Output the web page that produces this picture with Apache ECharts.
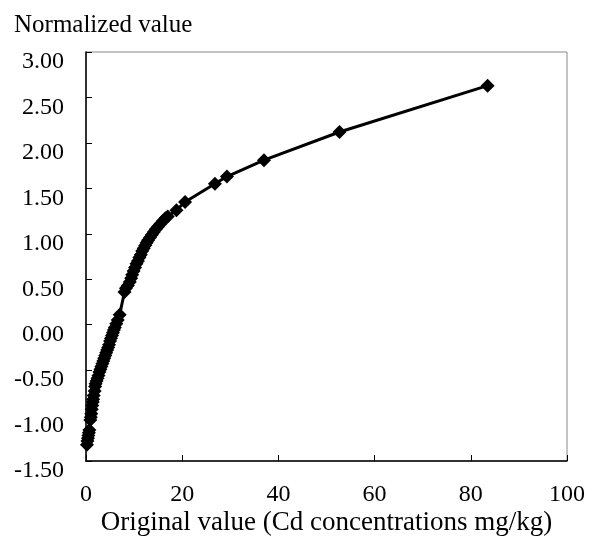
<!DOCTYPE html>
<html>
<head>
<meta charset="utf-8">
<script src="https://cdn.jsdelivr.net/npm/echarts@6/dist/echarts.min.js"></script>
<style>html,body{margin:0;padding:0;background:#fff}#c{width:592px;height:537px}</style>
</head>
<body>
<div id="c"></div>
<script>
const originalValues = [0.2,0.3,0.4,0.5,0.6,0.7,0.9,1.0,1.1,1.2,1.3,1.4,1.5,1.6,1.8,1.9,2.0,2.2,2.4,2.6,2.8,3.0,3.2,3.4,3.6,3.8,4.0,4.2,4.4,4.6,4.8,5.0,5.2,5.4,5.6,5.8,6.0,6.3,6.6,7.0,8.0,8.3,8.7,9.1,9.4,9.6,9.9,10.2,10.5,10.8,11.1,11.4,11.7,12.0,12.3,12.6,12.9,13.3,13.7,14.1,14.5,15.0,15.5,16.0,16.5,17.0,18.8,20.6,26.8,29.3,37.0,52.7,83.5];
const normalizedValues = [-1.32,-1.28,-1.25,-1.22,-1.19,-1.16,-1.05,-1.02,-0.98,-0.93,-0.89,-0.85,-0.82,-0.78,-0.73,-0.68,-0.65,-0.62,-0.59,-0.56,-0.52,-0.49,-0.46,-0.43,-0.40,-0.37,-0.34,-0.31,-0.28,-0.25,-0.22,-0.18,-0.15,-0.12,-0.09,-0.06,-0.03,0.01,0.05,0.11,0.36,0.40,0.43,0.47,0.51,0.55,0.59,0.63,0.67,0.70,0.74,0.77,0.81,0.84,0.87,0.90,0.93,0.96,0.99,1.02,1.05,1.08,1.11,1.14,1.17,1.19,1.26,1.35,1.55,1.63,1.81,2.12,2.63];
const xTicks = [0,20,40,60,80,100];
const yTicks = [-1.5,-1.0,-0.5,0,0.5,1.0,1.5,2.0,2.5,3.0];
const xTitle = 'Original value (Cd concentrations mg/kg)';
const yTitle = 'Normalized value';

const points = originalValues.map((v,i)=>[v, normalizedValues[i]]);
const font = 'Liberation Serif, Times New Roman, serif';
const chart = echarts.init(document.getElementById('c'), null, {renderer:'canvas'});
chart.setOption({
  animation:false,
  backgroundColor:'#fff',
  grid:{left:86,right:25,top:52,bottom:76,show:true,borderColor:'#888',borderWidth:1,containLabel:false,outerBoundsMode:'none'},
  title:{text:yTitle,left:9,top:8,textStyle:{fontFamily:font,fontSize:25,fontWeight:'normal',color:'#000'}},
  xAxis:{type:'value',min:xTicks[0],max:xTicks[xTicks.length-1],interval:20,
    name:xTitle,nameLocation:'middle',nameGap:48,nameMoveOverlap:false,
    nameTextStyle:{fontFamily:font,fontSize:27,color:'#000'},
    axisLine:{show:true,onZero:false,lineStyle:{color:'#000',width:1.5}},
    axisTick:{show:true,inside:true,length:6,lineStyle:{color:'#000'}},
    axisLabel:{fontFamily:font,fontSize:24,color:'#000',margin:5,verticalAlign:'top',lineHeight:19,formatter:v=>'\n'+v},
    splitLine:{show:false}},
  yAxis:{type:'value',min:yTicks[0],max:yTicks[yTicks.length-1],interval:0.5,
    axisLine:{show:true,onZero:false,lineStyle:{color:'#000',width:1.5}},
    axisTick:{show:true,inside:true,length:6,lineStyle:{color:'#000'}},
    axisLabel:{fontFamily:font,fontSize:24,color:'#000',margin:22,verticalAlign:'top',lineHeight:20,formatter:v=>v.toFixed(2)},
    splitLine:{show:false}},
  series:[{type:'line',data:points,symbol:'diamond',symbolSize:14,showAllSymbol:true,
    lineStyle:{color:'#000',width:3},itemStyle:{color:'#000'}}]
});
</script>
</body>
</html>
